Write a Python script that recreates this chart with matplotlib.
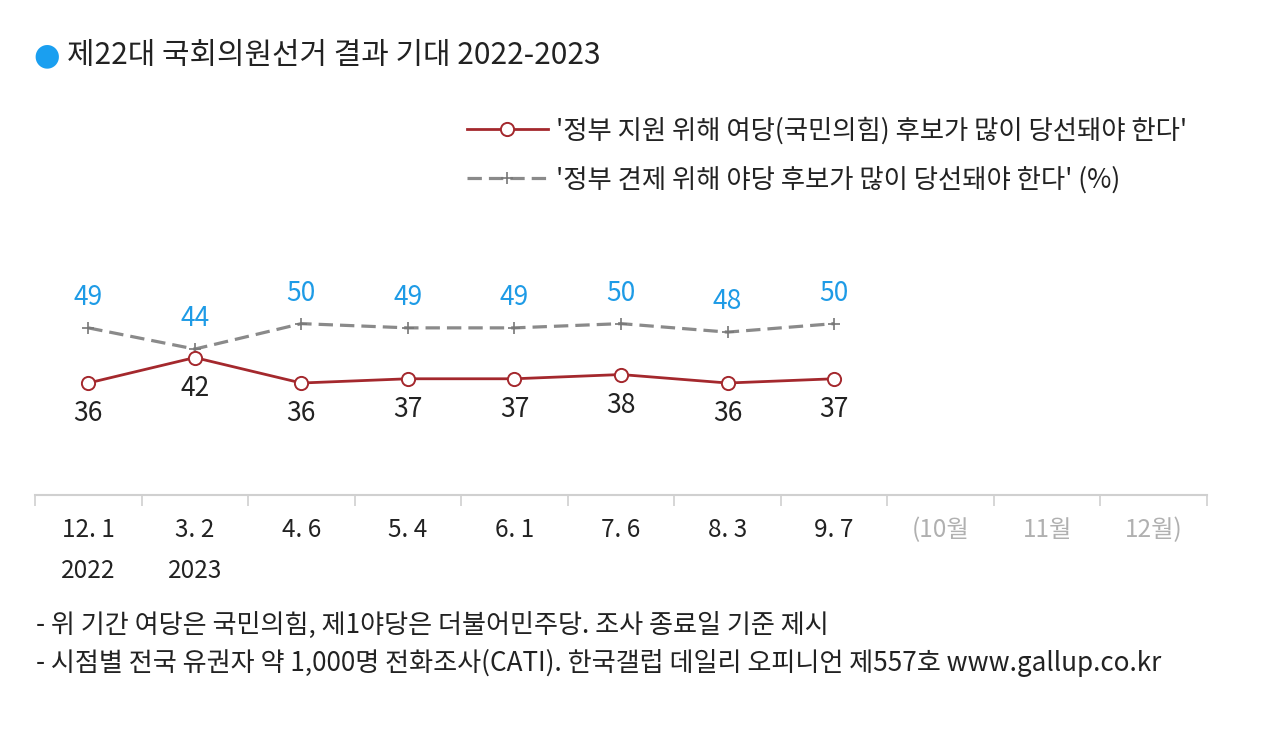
import matplotlib
matplotlib.use('Agg')
import matplotlib.pyplot as plt
import matplotlib.transforms as mtransforms

plt.rcParams['font.family'] = ['Noto Sans CJK KR', 'DejaVu Sans']

# data
tick_labels = ['12. 1', '3. 2', '4. 6', '5. 4', '6. 1', '7. 6', '8. 3', '9. 7', '(10월', '11월', '12월)']
year_labels = ['2022', '2023']
n_real = 8
gov_support = [36, 42, 36, 37, 37, 38, 36, 37]
opp_check = [49, 44, 50, 49, 49, 50, 48, 50]
label_gov = "'정부 지원 위해 여당(국민의힘) 후보가 많이 당선돼야 한다'"
label_opp = "'정부 견제 위해 야당 후보가 많이 당선돼야 한다' (%)"
title = '제22대 국회의원선거 결과 기대 2022-2023'
notes = ['- 위 기간 여당은 국민의힘, 제1야당은 더불어민주당. 조사 종료일 기준 제시',
         '- 시점별 전국 유권자 약 1,000명 전화조사(CATI). 한국갤럽 데일리 오피니언 제557호 www.gallup.co.kr']

red = '#a4282d'
gray = '#8a8a8a'
blue = '#1e9be6'
txt = '#222222'

W, H = 1280, 735
fig = plt.figure(figsize=(12.8, 7.35), dpi=100)
ax = fig.add_axes([35 / W, (H - 495) / H, 1172 / W, 235 / H])
ax.set_xlim(-0.5, len(tick_labels) - 0.5)
ax.set_ylim(9.6, 65)

x = list(range(n_real))
l_opp, = ax.plot(x, opp_check, color=gray, lw=2.3, ls=(0, (4.5, 2.2)), marker='+',
                 ms=9, mew=1.2, mec='#777777')
l_gov, = ax.plot(x, gov_support, color=red, lw=2.0, marker='o', ms=9.5,
                 mfc='white', mec=red, mew=1.4)

for xi, v in zip(x, opp_check):
    ax.annotate(str(v), (xi, v), xytext=(0, 22), textcoords='offset points',
                ha='center', va='center', color=blue, fontsize=19)
for xi, v in zip(x, gov_support):
    ax.annotate(str(v), (xi, v), xytext=(0, -22), textcoords='offset points',
                ha='center', va='center', color=txt, fontsize=19)

for s in ['top', 'right', 'left']:
    ax.spines[s].set_visible(False)
ax.spines['bottom'].set_color('#d0d0d0')
ax.spines['bottom'].set_linewidth(1.5)
ax.set_yticks([])
ax.set_xticks(range(len(tick_labels)))
ax.set_xticklabels(tick_labels, fontsize=17.5)
ax.tick_params(axis='x', which='major', length=0, pad=16)
for i, t in enumerate(ax.get_xticklabels()):
    t.set_color(txt if i < n_real else '#b0b0b0')
ax.set_xticks([i - 0.5 for i in range(len(tick_labels) + 1)], minor=True)
ax.tick_params(axis='x', which='minor', length=8, width=1.2, color='#d0d0d0')

trans = mtransforms.blended_transform_factory(ax.transData, fig.transFigure)
for i, yl in enumerate(year_labels):
    ax.text(i, (H - 571) / H, yl, transform=trans, ha='center', va='center',
            fontsize=17.5, color=txt)

# title
fig.text(47 / W, (H - 56) / H, '●', color='#1a9ff0', fontsize=22, ha='center', va='center',
         family=['DejaVu Sans'])
fig.text(67 / W, (H - 56) / H, title, fontsize=21.5, ha='left', va='center', color=txt)

fig.legend([l_gov, l_opp], [label_gov, label_opp], loc='upper left',
           bbox_to_anchor=(443 / W, (H - 93) / H), frameon=False, fontsize=19,
           handlelength=3.07, handletextpad=0.3, labelspacing=0.83, numpoints=1,
           labelcolor=txt)

for i, t in enumerate(notes):
    fig.text(36 / W, (H - 625 - 38 * i) / H, t, fontsize=18.8, ha='left', va='center', color=txt)

fig.savefig('out.png', dpi=100)
